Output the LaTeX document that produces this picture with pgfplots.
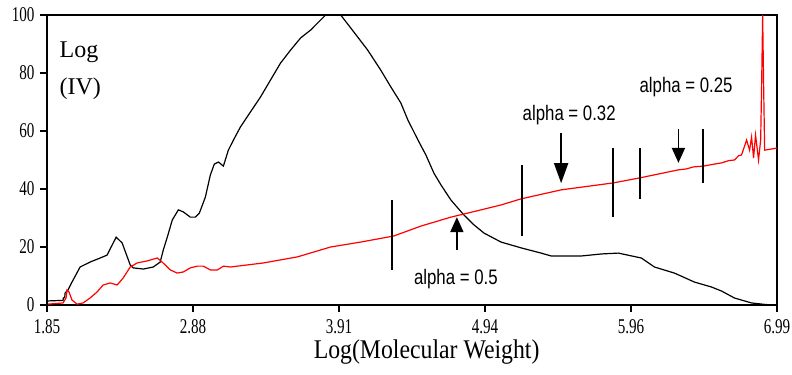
\documentclass[border=0pt]{standalone}
\usepackage{fontspec}
\setmainfont{Liberation Serif}
\newfontfamily\tickfont{Liberation Serif}[FakeStretch=0.72]
\newfontfamily\labfont{Liberation Serif}[FakeStretch=0.88]
\newfontfamily\alphafont{Liberation Sans}[FakeStretch=0.8]
\usepackage{pgfplots}
\pgfplotsset{compat=1.18}
\usetikzlibrary{arrows.meta}
\begin{document}
\begin{tikzpicture}
\begin{axis}[
  scale only axis, width=730bp, height=290bp,
  xmin=1.85, xmax=6.99, ymin=0, ymax=100,
  xtick={1.85,2.878,3.906,4.934,5.962,6.99},
  xticklabels={1.85,2.88,3.91,4.94,5.96,6.99},
  ytick={0,20,40,60,80,100},
  /pgf/number format/assume math mode=true,
  tick align=outside, xtick pos=bottom, ytick pos=left,
  major tick length=7bp,
  tick style={line width=1.2bp, black},
  axis line style={line width=1.8bp},
  ticklabel style={font=\tickfont\fontsize{21bp}{22bp}\selectfont},
  xticklabel style={yshift=-4bp},
  yticklabel style={xshift=-2bp},
  xlabel={Log(Molecular Weight)},
  xlabel style={font=\labfont\fontsize{27bp}{29bp}\selectfont, at={(axis description cs:0.52,0)}, anchor=north, yshift=-31bp},
  clip=true,
]
% black: Log(IV) distribution
\addplot[black, line width=1.2bp] coordinates {
(1.857,1.4) (1.963,1.6) (1.965,2.4) (1.975,2.6) (1.977,4.1) (1.998,5.2) (2.026,7.9) (2.083,13.1)
(2.153,14.8) (2.224,16.2) (2.273,17.2) (2.309,20.7) (2.337,23.4) (2.379,21.4) (2.415,16.6)
(2.436,13.8) (2.457,12.8) (2.528,12.4) (2.598,13.1) (2.647,14.8) (2.669,19.0) (2.697,23.4)
(2.732,29.3) (2.775,32.8) (2.810,32.1) (2.859,30.3) (2.894,30.3) (2.923,31.7) (2.965,37.2)
(3.000,44.8) (3.028,48.6) (3.057,49.3) (3.092,47.9) (3.127,53.4) (3.163,56.9) (3.212,61.4)
(3.283,66.6) (3.353,71.7) (3.424,77.6) (3.494,83.4) (3.565,87.9) (3.636,92.1) (3.706,94.8)
(3.777,98.3) (3.812,100) (3.918,100) (3.989,95.5) (4.108,87.9) (4.200,81.0) (4.271,75.2)
(4.341,69.7) (4.391,63.8) (4.462,56.9) (4.518,51.7) (4.574,45.5) (4.624,41.4) (4.694,36.2)
(4.786,31.0) (4.857,27.6) (4.927,24.8) (5.047,21.7) (5.188,19.7) (5.329,17.9) (5.400,16.9)
(5.612,16.9) (5.753,17.6) (5.873,17.9) (6.035,16.2) (6.127,13.1) (6.268,11.0) (6.409,7.9)
(6.529,6.2) (6.600,4.8) (6.691,2.4) (6.811,0.7) (6.903,0.2) (6.952,0)
};
% red: alpha curve
\addplot[red, line width=1.2bp] coordinates {
(1.857,0.3) (1.963,0.7) (1.984,2.4) (1.991,5.2) (2.005,4.5) (2.026,1.7) (2.062,0.3) (2.104,0.7)
(2.153,2.4) (2.203,4.5) (2.245,6.9) (2.295,7.6) (2.344,6.9) (2.386,9.3) (2.436,13.1) (2.485,14.5)
(2.556,15.2) (2.626,16.2) (2.661,14.8) (2.718,12.1) (2.767,11.0) (2.810,11.4) (2.859,12.8)
(2.909,13.4) (2.951,13.4) (3.000,12.1) (3.050,12.1) (3.092,13.4) (3.141,13.1) (3.374,14.5)
(3.614,16.6) (3.847,20.0) (4.059,21.7) (4.292,23.8) (4.482,27.2) (4.694,30.3) (4.906,32.8)
(5.047,34.5) (5.188,36.6) (5.470,39.7) (5.837,42.1) (6.021,43.8) (6.296,46.6) (6.35,46.9)
(6.40,47.6) (6.472,47.9) (6.55,48.6) (6.600,49.0) (6.65,49.8) (6.691,50.0) (6.72,51.5)
(6.740,51.7) (6.776,56.9) (6.797,53.4) (6.811,57.9) (6.825,50.7) (6.839,58.6) (6.860,50.0)
(6.875,56.9) (6.882,76.6) (6.889,100) (6.896,75.2) (6.903,53.4) (6.99,54.1)
};
% vertical markers
\addplot[black, line width=1.9bp] coordinates {(4.278,12.1) (4.278,36.2)};
\addplot[black, line width=1.9bp] coordinates {(5.195,23.8) (5.195,48.3)};
\addplot[black, line width=1.9bp] coordinates {(5.837,30.3) (5.837,54.0)};
\addplot[black, line width=1.9bp] coordinates {(6.028,36.6) (6.028,54.0)};
\addplot[black, line width=1.9bp] coordinates {(6.472,42.0) (6.472,60.7)};
% arrows
\draw[line width=1.8bp, -{Triangle[width=13bp,length=15bp]}] (axis cs:4.736,19.0) -- (axis cs:4.736,30.3);
\draw[line width=1.8bp, -{Triangle[width=14bp,length=20bp]}] (axis cs:5.47,59.3) -- (axis cs:5.47,42.0);
\draw[line width=1.8bp, -{Triangle[width=13bp,length=15bp]}] (axis cs:6.296,60.7) -- (axis cs:6.296,49.0);
% labels
\node[font=\alphafont\fontsize{21bp}{22bp}\selectfont] at (axis cs:4.729,9.0) {alpha = 0.5};
\node[font=\alphafont\fontsize{21bp}{22bp}\selectfont] at (axis cs:5.527,65.5) {alpha = 0.32};
\node[font=\alphafont\fontsize{21bp}{22bp}\selectfont] at (axis cs:6.35,75.2) {alpha = 0.25};
\node[anchor=north west, align=left, inner sep=0pt, font=\fontsize{24bp}{37bp}\selectfont] at (rel axis cs:0.017,0.91) {Log\\(IV)};
\coordinate (sw) at (rel axis cs:0,0);
\coordinate (ne) at (rel axis cs:1,1);
\end{axis}
\pgfresetboundingbox
\path ([xshift=-47bp,yshift=-70bp]sw) rectangle ([xshift=15bp,yshift=15bp]ne);
\end{tikzpicture}
\end{document}
